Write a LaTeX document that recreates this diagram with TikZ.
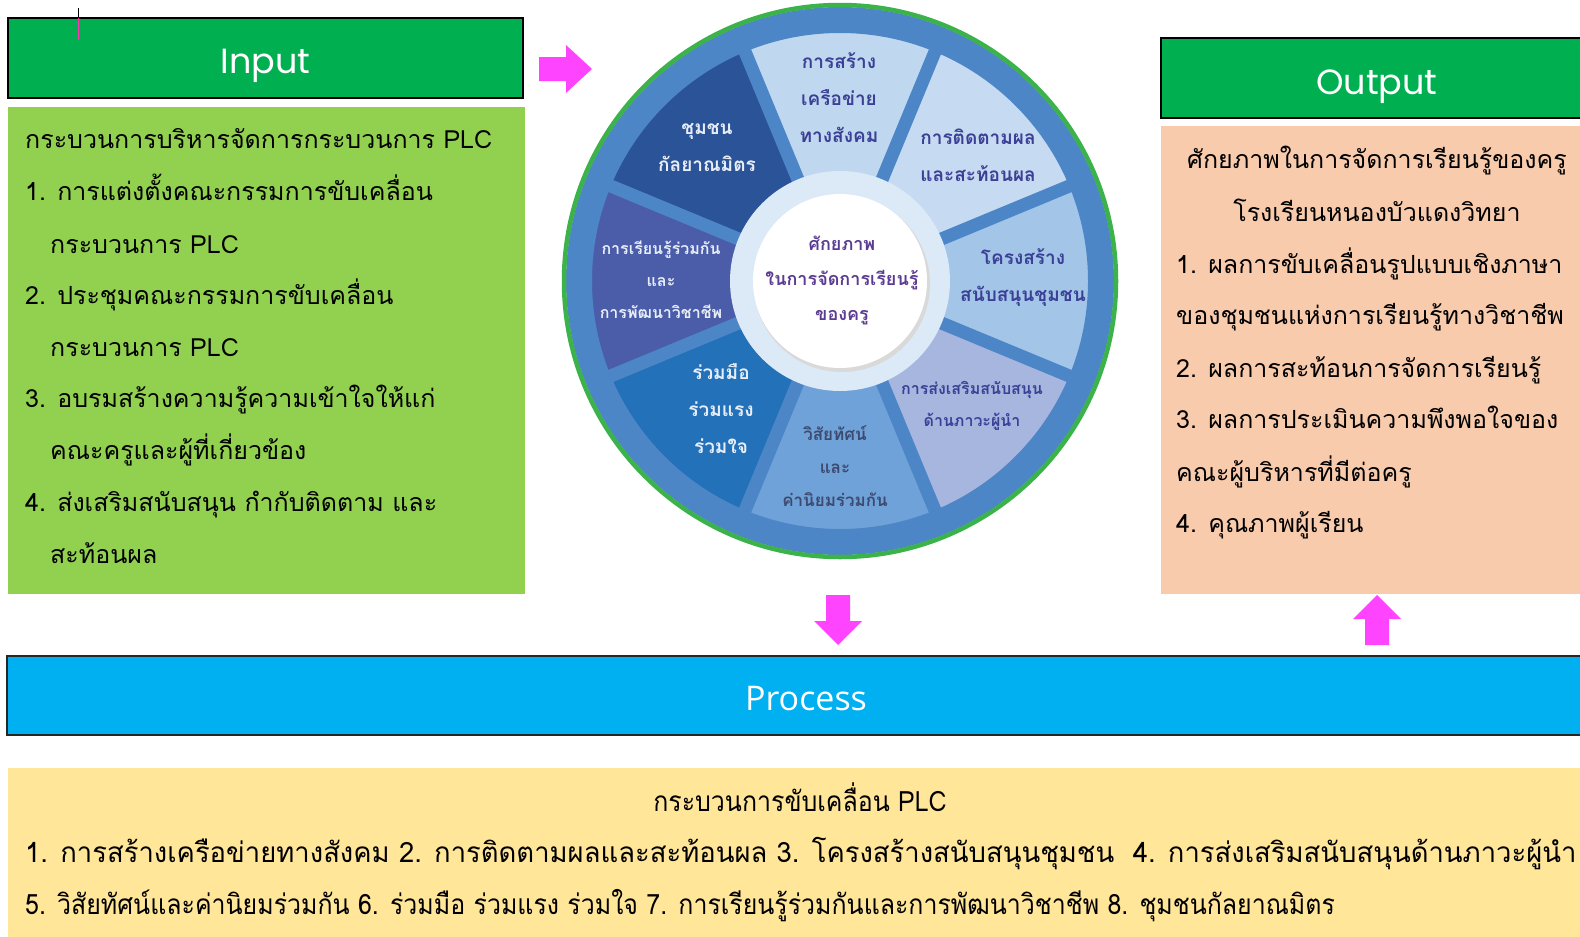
\documentclass[tikz,border=0pt]{standalone}
\usepackage{fontspec}
\usetikzlibrary{calc}
\newfontfamily\thaifont[Script=Thai]{Loma}
\newfontfamily\thainarrow[Script=Thai,FakeStretch=0.89]{Loma}
\newfontfamily\headfont{Poppins}
\newfontfamily\barfont{Open Sans}
\definecolor{headgreen}{HTML}{00B050}
\definecolor{ingreen}{HTML}{92D050}
\definecolor{outpeach}{HTML}{F8CBAD}
\definecolor{procblue}{HTML}{00B0F0}
\definecolor{procyellow}{HTML}{FFE699}
\definecolor{flowpink}{HTML}{FF44FF}
\definecolor{wheelblue}{HTML}{4D86C7}
\definecolor{rimgreen}{HTML}{3CB34A}
\definecolor{hubring}{HTML}{DCE9F7}
\definecolor{hubtext}{HTML}{5C3C92}
\definecolor{segA}{HTML}{C0D8EF}
\definecolor{segB}{HTML}{C6DBF1}
\definecolor{segC}{HTML}{A2C5E8}
\definecolor{segD}{HTML}{A7B6DF}
\definecolor{segE}{HTML}{6FA2D8}
\definecolor{segF}{HTML}{2371B8}
\definecolor{segG}{HTML}{4B5DA9}
\definecolor{segH}{HTML}{2B5397}
\definecolor{darklab}{HTML}{3B3F96}
\definecolor{greylab}{HTML}{3D4A70}
\definecolor{lightlab}{HTML}{E8EEF8}
\tikzset{
  headbox/.style={draw=black,line width=1.5pt,fill=headgreen,text=white,inner sep=0pt,
    text depth=0pt,font=\headfont\fontsize{35}{40}\selectfont},
  bodyline/.style={anchor=base west,inner sep=0pt,font=\thaifont\fontsize{25}{30}\selectfont},
  midline/.style={anchor=base,inner sep=0pt,font=\thaifont\fontsize{25}{30}\selectfont},
  procline/.style={anchor=base west,inner sep=0pt,font=\thainarrow\fontsize{28}{30}\selectfont},
  seglab/.style={align=center,inner sep=0pt,font=\thaifont\bfseries\fontsize{19}{37}\selectfont},
  smalllab/.style={align=center,inner sep=0pt,font=\thaifont\bfseries\fontsize{16}{32}\selectfont}
}
\begin{document}
\begin{tikzpicture}[x=1pt,y=-1pt]
  \useasboundingbox (0,0) rectangle (1580,937);
  % input side
  \node[headbox,text height=31pt,minimum width=515,minimum height=80] (inhead) at (265.5,58) {Input};
  \node[fill=ingreen,minimum width=517,minimum height=487,anchor=north west,inner sep=0pt] (inbody) at (8,107) {};
  \node[bodyline] (in1) at (25,148) {กระบวนการบริหารจัดการกระบวนการ PLC};
  \node[bodyline] (in2) at (25,200.5) {1. การแต่งตั้งคณะกรรมการขับเคลื่อน};
  \node[bodyline] (in3) at (50,253) {กระบวนการ PLC};
  \node[bodyline] (in4) at (25,304) {2. ประชุมคณะกรรมการขับเคลื่อน};
  \node[bodyline] (in5) at (50,356) {กระบวนการ PLC};
  \node[bodyline] (in6) at (25,407) {3. อบรมสร้างความรู้ความเข้าใจให้แก่};
  \node[bodyline] (in7) at (50,459.5) {คณะครูและผู้ที่เกี่ยวข้อง};
  \node[bodyline] (in8) at (25,511) {4. ส่งเสริมสนับสนุน กำกับติดตาม และ};
  \node[bodyline] (in9) at (50,563) {สะท้อนผล};
  \draw[line width=1pt] (78,8) -- (78,18);
  \draw[line width=1pt,flowpink!70!red] (78,18) -- (78,40);

  % output side
  \node[headbox,text height=32pt,minimum width=432,minimum height=80] (outhead) at (1377,78) {Output};
  \node[fill=outpeach,minimum width=440,minimum height=468,anchor=north west,inner sep=0pt] (outbody) at (1161,126) {};
  \node[midline] (out1) at (1377,168) {ศักยภาพในการจัดการเรียนรู้ของครู};
  \node[midline] (out2) at (1377,221) {โรงเรียนหนองบัวแดงวิทยา};
  \node[bodyline] (out3) at (1176,273) {1. ผลการขับเคลื่อนรูปแบบเชิงภาษา};
  \node[bodyline] (out4) at (1176,324) {ของชุมชนแห่งการเรียนรู้ทางวิชาชีพ};
  \node[bodyline] (out5) at (1176,377) {2. ผลการสะท้อนการจัดการเรียนรู้};
  \node[bodyline] (out6) at (1176,428) {3. ผลการประเมินความพึงพอใจของ};
  \node[bodyline] (out7) at (1176,481) {คณะผู้บริหารที่มีต่อครู};
  \node[bodyline] (out8) at (1176,532) {4. คุณภาพผู้เรียน};

  % process
  \node[draw=black!85,line width=1.5pt,fill=procblue,text=white,inner sep=0pt,minimum width=1598,minimum height=79,
    text height=30pt,text depth=0pt,font=\barfont\fontsize{34}{40}\selectfont] (prochead) at (806,695.5) {Process};
  \node[fill=procyellow,minimum width=1600,minimum height=175,anchor=north west,inner sep=0pt] (procbody) at (8,768) {};
  \node[procline,anchor=base] (proc1) at (800,811) {กระบวนการขับเคลื่อน PLC};
  \node[procline] (proc2) at (25,862) {\scalebox{1.1}[1]{1. การสร้างเครือข่ายทางสังคม 2. การติดตามผลและสะท้อนผล 3. โครงสร้างสนับสนุนชุมชน \ 4. การส่งเสริมสนับสนุนด้านภาวะผู้นำ}};
  \node[procline] (proc3) at (25,914) {5. วิสัยทัศน์และค่านิยมร่วมกัน 6. ร่วมมือ ร่วมแรง ร่วมใจ 7. การเรียนรู้ร่วมกันและการพัฒนาวิชาชีพ 8. ชุมชนกัลยาณมิตร};

  % flow arrows
  \fill[flowpink] (539,57) -- (566,57) -- (566,45) -- (592,69) -- (566,93) -- (566,81) -- (539,81) -- cycle;
  \fill[flowpink] (826,595) -- (850,595) -- (850,621) -- (862,621) -- (838,645) -- (814,621) -- (826,621) -- cycle;
  \fill[flowpink] (1365,645) -- (1389,645) -- (1389,619) -- (1401,619) -- (1377,595) -- (1353,619) -- (1365,619) -- cycle;

  % wheel
  \coordinate (hub) at (840,281);
  \foreach \a/\c in {270/segA,315/segB,0/segC,45/segD,90/segE,135/segF,180/segG,225/segH}
    \fill[\c] (hub) -- ++(\a-22.5:250) arc[start angle=\a-22.5,end angle=\a+22.5,radius=250] -- cycle;
  \foreach \a in {22.5,67.5,...,337.5}
    \draw[wheelblue,line width=13pt] (hub) -- ++(\a:252);
  \draw[wheelblue,line width=26pt] (hub) circle (261);
  \draw[rimgreen,line width=4.5pt] (hub) circle (276);
  \fill[hubring] (hub) circle (110);
  \fill[black!15] ($(hub)+(2,3)$) circle (88);
  \fill[white] (hub) circle (87);

  \node[seglab,text=darklab] (seg1) at (839,98) {การสร้าง\\เครือข่าย\\ทางสังคม};
  \node[seglab,text=darklab] (seg2) at (978,155) {การติดตามผล\\และสะท้อนผล};
  \node[seglab,text=darklab] (seg3) at (1023,278) {โครงสร้าง\\สนับสนุนชุมชน};
  \node[smalllab,text=darklab] (seg4) at (972,406) {การส่งเสริมสนับสนุน\\ด้านภาวะผู้นำ};
  \node[smalllab,text=greylab,font=\thaifont\bfseries\fontsize{17}{33}\selectfont] (seg5) at (835,466) {วิสัยทัศน์\\และ\\ค่านิยมร่วมกัน};
  \node[seglab,text=lightlab] (seg6) at (721,409) {ร่วมมือ\\ร่วมแรง\\ร่วมใจ};
  \node[smalllab,text=lightlab] (seg7) at (661,280) {การเรียนรู้ร่วมกัน\\และ\\การพัฒนาวิชาชีพ};
  \node[seglab,text=lightlab] (seg8) at (707,148) {ชุมชน\\กัลยาณมิตร};
  \node[align=center,inner sep=0pt,text=hubtext,font=\thaifont\bfseries\fontsize{18}{35}\selectfont] (core) at (842,280) {ศักยภาพ\\ในการจัดการเรียนรู้\\ของครู};
\end{tikzpicture}
\end{document}
